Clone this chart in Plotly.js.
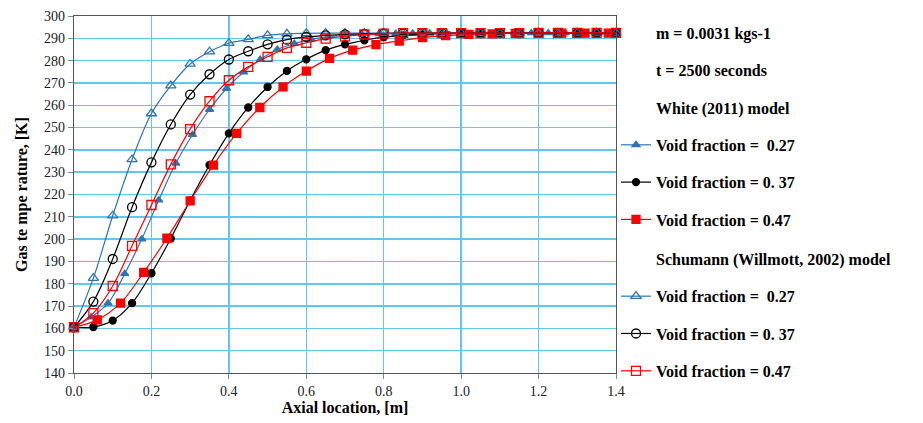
<!DOCTYPE html>
<html>
<head>
<meta charset="utf-8">
<script src="https://cdn.plot.ly/plotly-3.0.1.min.js"></script>
<style>html,body{margin:0;padding:0;background:#fff;}#chart{width:923px;height:423px;}</style>
</head>
<body>
<div id="chart"></div>
<script>
// Axial location (m) for each series
const xWhite27 = [0,0.044,0.088,0.131,0.175,0.219,0.263,0.306,0.35,0.394,0.438,0.481,0.525,0.569,0.613,0.656,0.7,0.744,0.788,0.831,0.875,0.919,0.963,1.006,1.05,1.094,1.138,1.181,1.225,1.269,1.313,1.356,1.4];
const xStep05 = [0,0.05,0.1,0.15,0.2,0.25,0.3,0.35,0.4,0.45,0.5,0.55,0.6,0.65,0.7,0.75,0.8,0.85,0.9,0.95,1.0,1.05,1.1,1.15,1.2,1.25,1.3,1.35,1.4];
const xWhite47 = [0,0.06,0.12,0.18,0.24,0.3,0.36,0.42,0.48,0.54,0.6,0.66,0.72,0.78,0.84,0.9,0.96,1.02,1.08,1.14,1.2,1.26,1.32,1.38];

// Gas temperature (K)
const yWhite27 = [160.5,165,171.3,184.5,200,217.5,234,246.8,258.1,267.5,274.9,280.5,285,287.6,289.5,290.6,291.3,291.8,292,292.1,292.2,292.2,292.3,292.3,292.3,292.3,292.4,292.4,292.4,292.4,292.4,292.4,292.4];
const yWhite37 = [160.5,160.6,163.5,171.3,184.7,200.3,217.3,233.2,247.4,259,268.2,275.4,280.6,284.7,287.3,289.1,290.5,291.3,291.8,292,292.2,292.2,292.3,292.3,292.3,292.3,292.4,292.4,292.4];
const yWhite47 = [160.5,163.8,171.3,185.1,200.4,217.1,233.2,247.4,259,268.2,275.3,281,284.7,287.2,288.8,290.3,291.2,291.8,292,292.2,292.2,292.3,292.3,292.3];
const ySchu27 = [160.5,182.5,210.5,235.7,256.3,268.8,278.5,284,287.8,289.5,291.3,292,292.2,292.3,292.3,292.3,292.3,292.3,292.3,292.3,292.3,292.3,292.3,292.3,292.4,292.4,292.4,292.4,292.4];
const ySchu37 = [160.5,172,191.1,214.3,234.4,251.4,264.8,273.9,280.5,284.2,287.3,289.4,290.6,291.3,291.8,292,292.2,292.2,292.3,292.3,292.3,292.3,292.3,292.3,292.4,292.4,292.4,292.4,292.4];
const ySchu47 = [160.5,166.8,179,197,215.3,233.5,249.3,261.8,271.2,277.2,281.7,285.7,288,289.9,290.9,291.7,292.1,292.3,292.3,292.3,292.3,292.3,292.3,292.3,292.4,292.4,292.4,292.4,292.4];

const legendText = [
  "m = 0.0031 kgs-1",
  "t = 2500 seconds",
  "White (2011) model",
  "Void fraction =\u00A0\u00A00.27",
  "Void fraction = 0.\u00A037",
  "Void fraction = 0.47",
  "Schumann (Willmott, 2002) model",
  "Void fraction =\u00A0\u00A00.27",
  "Void fraction = 0.\u00A037",
  "Void fraction = 0.47"
];
const xTicks = [0,0.2,0.4,0.6,0.8,1.0,1.2,1.4];

const BLUE = "#2E75B6", RED = "#FF0000", BLACK = "#000000";
const SERIF = "Liberation Serif";

function header(name, g, lg) {
  return {x:[null], y:[null], mode:"lines", line:{width:0, color:"rgba(0,0,0,0)"}, name:name, legendgroup:g, legend:lg, hoverinfo:"skip"};
}
function series(x, y, name, color, symbol, size, g, lg) {
  return {x:x, y:y, mode:"lines+markers", name:name, legendgroup:g, legend:lg, cliponaxis:false,
    line:{color:color, width:1.2, shape:"spline", smoothing:1},
    marker:{color:color, symbol:symbol, size:size, line:{color:color, width:1.3}}};
}

const data = [
  header(legendText[0], "g0", "legend"),
  header(legendText[1], "g1", "legend"),
  header(legendText[2], "g2", "legend"),
  series(xWhite27, yWhite27, legendText[3], BLUE, "triangle-up", 7, "g3", "legend"),
  series(xStep05, yWhite37, legendText[4], BLACK, "circle", 7, "g4", "legend"),
  series(xWhite47, yWhite47, legendText[5], RED, "square", 8, "g5", "legend"),
  header(legendText[6], "g6", "legend2"),
  series(xStep05, ySchu27, legendText[7], BLUE, "triangle-up-open", 9, "g7", "legend2"),
  series(xStep05, ySchu37, legendText[8], BLACK, "circle-open", 9, "g8", "legend2"),
  series(xStep05, ySchu47, legendText[9], RED, "square-open", 9, "g9", "legend2")
];

const legendCommon = {
  xanchor: "left", yanchor: "top",
  font: {size: 16, family: SERIF, color: "#000", weight: "bold"},
  tracegroupgap: 13.5, itemwidth: 30, bgcolor: "rgba(0,0,0,0)", traceorder: "grouped"
};

const layout = {
  width: 923, height: 423,
  margin: {l:74, r:307, t:16, b:50},
  paper_bgcolor: "#ffffff", plot_bgcolor: "#ffffff",
  font: {family: SERIF, color: "#000"},
  xaxis: {
    range: [0, 1.4], tickvals: xTicks, tickformat: ".1f",
    showgrid: true, gridcolor: "#62C8EE", gridwidth: 1.5, zeroline: false,
    showline: true, linecolor: "#555", linewidth: 1.2, mirror: true,
    ticks: "outside", ticklen: 5, tickcolor: "#888",
    tickfont: {size: 14, family: SERIF, color: "#222"},
    title: {text: "<b>Axial location, [m]</b>", font: {size: 16, family: SERIF}, standoff: 3}
  },
  yaxis: {
    range: [140, 300], dtick: 10, tick0: 140,
    showgrid: true, gridcolor: "#62C8EE", gridwidth: 1.5, zeroline: false,
    showline: true, linecolor: "#555", linewidth: 1.2, mirror: true,
    ticks: "outside", ticklen: 5, tickcolor: "#888",
    tickfont: {size: 14, family: SERIF, color: "#222"},
    title: {text: "<b>Gas te mpe rature, [K]</b>", font: {size: 16, family: SERIF}, standoff: 12}
  },
  showlegend: true,
  legend: Object.assign({x: 1.0, y: 1.0}, legendCommon),
  legend2: Object.assign({x: 1.0, y: 0.367}, legendCommon)
};

Plotly.newPlot("chart", data, layout, {staticPlot: true});
</script>
</body>
</html>
